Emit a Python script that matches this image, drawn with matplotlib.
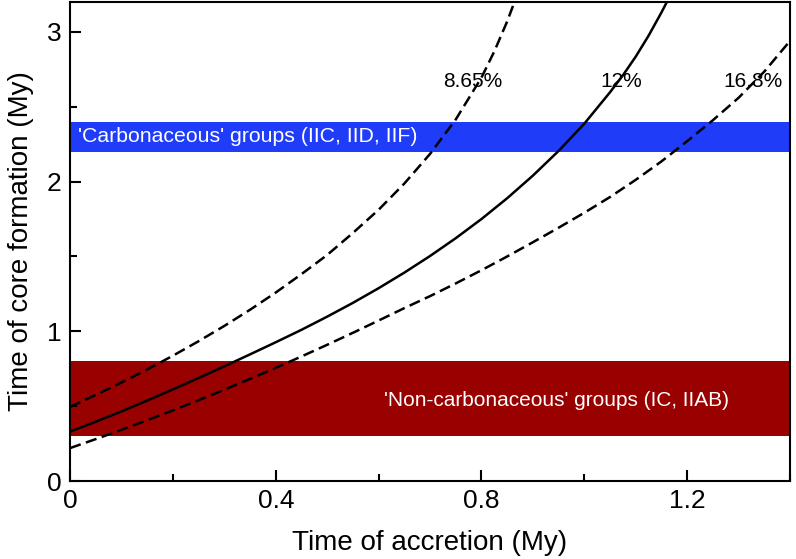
import numpy as np
import matplotlib
matplotlib.use("Agg")
import matplotlib.pyplot as plt
from matplotlib.ticker import MultipleLocator

plt.rcParams["font.family"] = ["Liberation Sans", "DejaVu Sans"]

# curves (time of accretion, time of core formation)
x_12 = [0.0, 0.05, 0.10, 0.15, 0.20, 0.25, 0.30, 0.35, 0.40, 0.45, 0.50, 0.55,
        0.60, 0.65, 0.70, 0.75, 0.80, 0.85, 0.90, 0.95, 1.00, 1.05, 1.075, 1.10,
        1.125, 1.15, 1.162]
y_12 = [0.33, 0.396, 0.465, 0.537, 0.612, 0.688, 0.766, 0.846, 0.927, 1.01, 1.098, 1.19,
        1.288, 1.392, 1.503, 1.622, 1.75, 1.889, 2.04, 2.205, 2.387, 2.597, 2.71, 2.835,
        2.975, 3.13, 3.21]

x_865 = [0.0, 0.05, 0.10, 0.15, 0.20, 0.25, 0.30, 0.35, 0.40, 0.45, 0.50, 0.55,
         0.60, 0.65, 0.70, 0.75, 0.80, 0.825, 0.85, 0.862]
y_865 = [0.495, 0.575, 0.658, 0.745, 0.837, 0.934, 1.036, 1.144, 1.259, 1.382, 1.51, 1.657,
         1.812, 1.987, 2.185, 2.415, 2.695, 2.87, 3.07, 3.18]

x_168 = [0.0, 0.05, 0.10, 0.15, 0.20, 0.25, 0.30, 0.35, 0.40, 0.45, 0.50, 0.55, 0.60,
         0.65, 0.70, 0.75, 0.80, 0.85, 0.90, 0.95, 1.00, 1.05, 1.10, 1.15, 1.20, 1.25,
         1.30, 1.35, 1.40]
y_168 = [0.22, 0.28, 0.342, 0.406, 0.472, 0.54, 0.61, 0.682, 0.756, 0.832, 0.91, 0.99, 1.072,
         1.155, 1.235, 1.32, 1.408, 1.5, 1.595, 1.692, 1.792, 1.897, 2.012, 2.135, 2.27, 2.41,
         2.56, 2.735, 2.94]

# bands (core formation time ranges)
carb_band = (2.2, 2.4)
noncarb_band = (0.3, 0.8)
carb_label = "'Carbonaceous' groups (IIC, IID, IIF)"
noncarb_label = "'Non-carbonaceous' groups (IC, IIAB)"

curve_labels = ["8.65%", "12%", "16.8%"]
label_x = [0.783, 1.072, 1.328]
label_y = 2.67

fig = plt.figure(figsize=(7.96, 5.59), dpi=100)
ax = fig.add_axes([0.088, 0.1395, 0.9045, 0.857])

ax.axhspan(*carb_band, color="#1f3cf8", lw=0, zorder=1)
ax.axhspan(*noncarb_band, color="#990000", lw=0, zorder=1)
ax.text(0.015, np.mean(carb_band), carb_label, color="white", fontsize=15.3,
        va="center", ha="left", zorder=2)
ax.text(0.946, 0.54, noncarb_label, color="white", fontsize=15,
        va="center", ha="center", zorder=2)

ax.plot(x_865, y_865, color="black", lw=1.8, ls=(0, (4.5, 2.2)), zorder=3)
ax.plot(x_12, y_12, color="black", lw=1.8, zorder=3)
ax.plot(x_168, y_168, color="black", lw=1.8, ls=(0, (4.5, 2.2)), zorder=3)

for lab, lx in zip(curve_labels, label_x):
    ax.text(lx, label_y, lab, fontsize=15, ha="center", va="center", zorder=4)

ax.set_xlim(0, 1.4)
ax.set_ylim(0, 3.2)
ax.xaxis.set_minor_locator(MultipleLocator(0.2))
ax.yaxis.set_minor_locator(MultipleLocator(0.5))
ax.set_xticks([0, 0.4, 0.8, 1.2])
ax.set_xticklabels(["0", "0.4", "0.8", "1.2"])
ax.set_yticks([0, 1, 2, 3])
ax.set_yticklabels(["0", "1", "2", "3"])
ax.tick_params(which="both", direction="in", width=1.5, labelsize=19)
ax.tick_params(which="major", length=8, pad=6)
ax.tick_params(which="minor", length=5)
for s in ax.spines.values():
    s.set_linewidth(1.5)

ax.set_xlabel("Time of accretion (My)", fontsize=20, labelpad=12)
ax.set_ylabel("Time of core formation (My)", fontsize=20, labelpad=9)

fig.savefig("out.png", dpi=100)
